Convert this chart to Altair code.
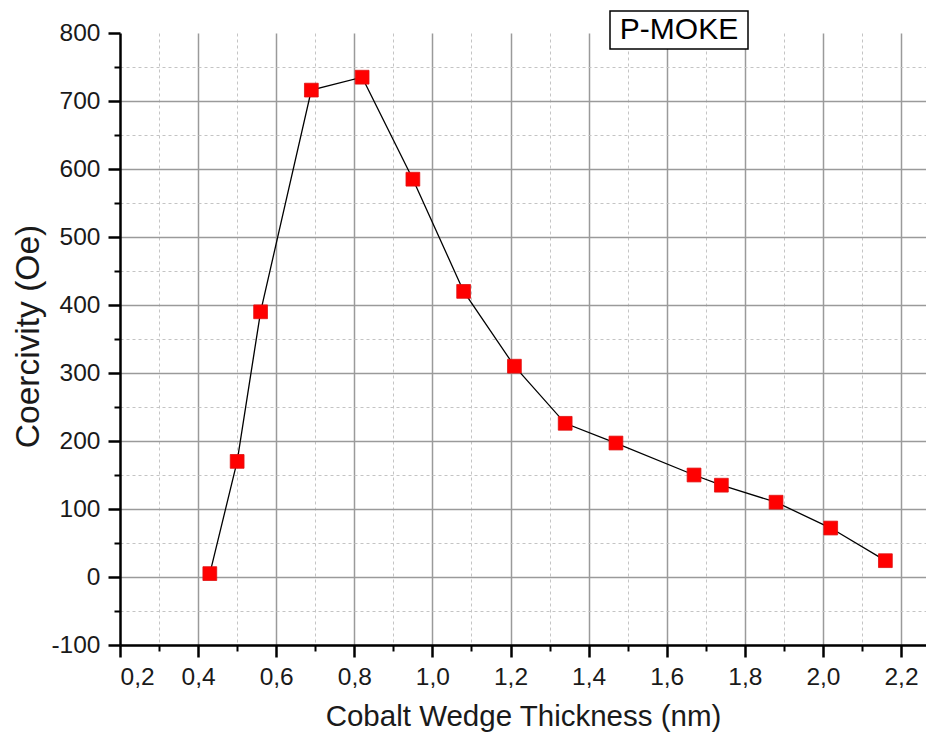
import altair as alt
import pandas as pd

# Data
thickness = [0.43, 0.50, 0.56, 0.69, 0.82, 0.95, 1.08, 1.21, 1.34, 1.47, 1.67, 1.74, 1.88, 2.02, 2.16]
coercivity = [5, 170, 390, 716, 735, 585, 420, 310, 226, 197, 150, 135, 110, 72, 24]

x_major = [0.2, 0.4, 0.6, 0.8, 1.0, 1.2, 1.4, 1.6, 1.8, 2.0, 2.2]
x_minor = [0.3, 0.5, 0.7, 0.9, 1.1, 1.3, 1.5, 1.7, 1.9, 2.1]
y_major = [-100, 0, 100, 200, 300, 400, 500, 600, 700, 800]
y_minor = [-50, 50, 150, 250, 350, 450, 550, 650, 750]

x_title = "Cobalt Wedge Thickness (nm)"
y_title = "Coercivity (Oe)"
label_text = "P-MOKE"

df = pd.DataFrame({"t": thickness, "hc": coercivity})

FONT = "Liberation Sans"
xscale = alt.Scale(domain=[0.2, 2.264], nice=False, zero=False)
yscale = alt.Scale(domain=[-100, 800], nice=False, zero=False)

minor_x_axis = alt.Axis(
    values=x_minor, orient="bottom", labels=False, title=None,
    tickSize=6, tickWidth=2, tickColor="black", domain=False,
    grid=True, gridColor="#c4c4c4", gridDash=[3, 3], gridWidth=1,
)
minor_y_axis = alt.Axis(
    values=y_minor, orient="left", labels=False, title=None,
    tickSize=6, tickWidth=2, tickColor="black", domain=False,
    grid=True, gridColor="#c4c4c4", gridDash=[3, 3], gridWidth=1,
)
major_x_axis = alt.Axis(
    values=x_major, orient="bottom", title=x_title,
    labelExpr="replace(format(datum.value, '.1f'), '.', ',')",
    labelFont=FONT, labelFontSize=24.5, labelColor="#1a1a1a", labelPadding=8,
    titleFont=FONT, titleFontSize=29.5, titleFontWeight="normal", titleColor="#1a1a1a",
    titlePadding=14,
    tickSize=12, tickWidth=2.5, tickColor="black",
    domain=True, domainColor="black", domainWidth=2.5,
    grid=True, gridColor="#9a9a9a", gridWidth=1.5,
    gridOpacity={"condition": {"test": "datum.value == 0.2", "value": 0}, "value": 1},
)
major_y_axis = alt.Axis(
    values=y_major, orient="left", title=y_title,
    labelExpr="'' + datum.value",
    labelFont=FONT, labelFontSize=24.5, labelColor="#1a1a1a", labelPadding=8,
    titleFont=FONT, titleFontSize=33.5, titleFontWeight="normal", titleColor="#1a1a1a",
    titlePadding=5, titleY=303,
    tickSize=12, tickWidth=2.5, tickColor="black",
    domain=True, domainColor="black", domainWidth=2.5,
    grid=True, gridColor="#9a9a9a", gridWidth=1.5,
    gridOpacity={"condition": {"test": "datum.value == 800", "value": 0}, "value": 1},
)

line = alt.Chart(df).mark_line(color="black", strokeWidth=1.3).encode(
    x=alt.X("t:Q", scale=xscale, axis=minor_x_axis),
    y=alt.Y("hc:Q", scale=yscale, axis=minor_y_axis),
)

points = alt.Chart(df).mark_square(
    size=190, color="#ff0000", opacity=1, stroke="#e01010", strokeWidth=0.8
).encode(
    x=alt.X("t:Q", scale=xscale, axis=major_x_axis),
    y=alt.Y("hc:Q", scale=yscale, axis=major_y_axis),
)

box = alt.Chart(df).mark_rect(
    fill="white", stroke="black", strokeWidth=1.5
).encode(
    x=alt.value(490), x2=alt.value(628), y=alt.value(-22), y2=alt.value(16)
).transform_filter("datum.t == 0.43")

label = alt.Chart(df).mark_text(
    text=label_text, font=FONT, fontSize=30, color="black",
    align="center", baseline="middle"
).encode(
    x=alt.value(559), y=alt.value(-3)
).transform_filter("datum.t == 0.43")

chart = (
    alt.layer(line, points, box, label)
    .resolve_scale(x="shared", y="shared")
    .resolve_axis(x="independent", y="independent")
    .properties(
        width=806, height=612,
        autosize=alt.AutoSizeParams(type="none"),
        padding={"left": 112, "top": 25, "right": 0, "bottom": 89},
        background="white",
    )
    .configure_view(stroke=None)
)

chart.save("out.html", embed_options={"renderer": "svg", "actions": False})
